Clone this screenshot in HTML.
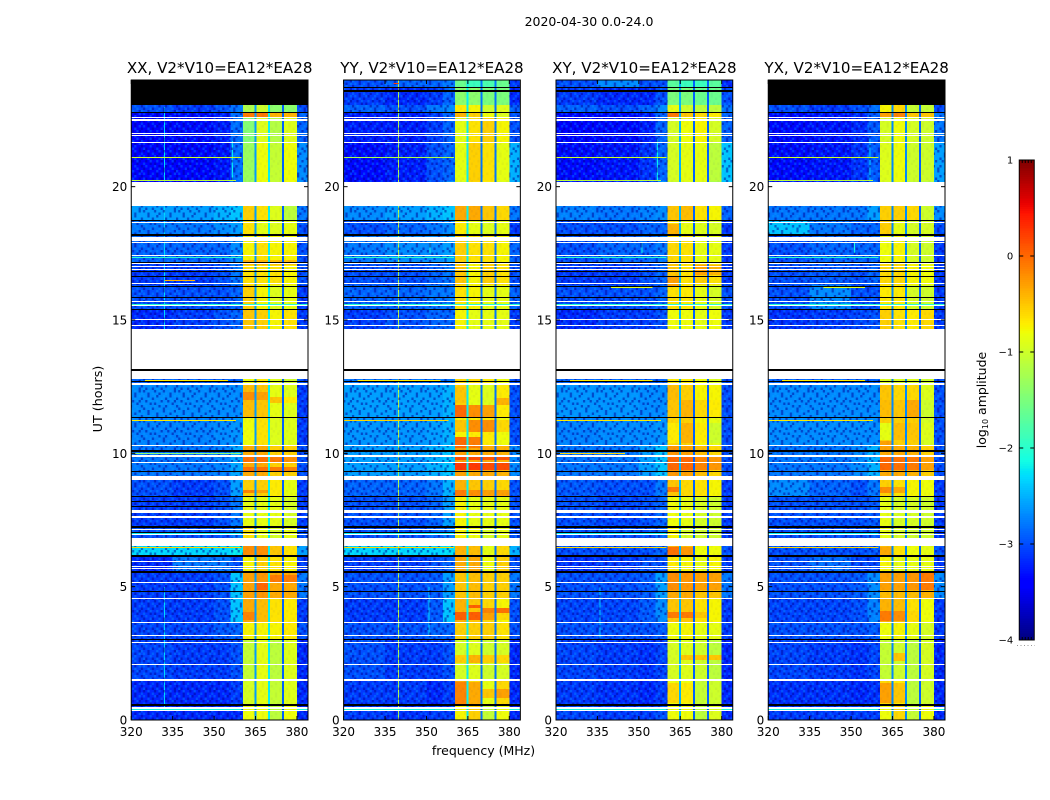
<!DOCTYPE html>
<html lang="en">
<head>
<meta charset="utf-8">
<title>2020-04-30 0.0-24.0</title>
<style>
html,body{margin:0;padding:0;background:#fff;width:1050px;height:800px;overflow:hidden}
svg{display:block}
text{font-family:"DejaVu Sans","Liberation Sans",sans-serif;fill:#000}
</style>
</head>
<body>
<svg id="figure" xmlns="http://www.w3.org/2000/svg" width="1050" height="800" viewBox="0 0 1050 800">
<rect x="0" y="0" width="1050" height="800" fill="#fff"/>
<text x="589" y="26" font-size="12.5" text-anchor="middle">2020-04-30 0.0-24.0</text>
<text x="483.5" y="755" font-size="12.5" text-anchor="middle">frequency (MHz)</text>
<text x="0" y="0" font-size="12.7" text-anchor="middle" transform="translate(102,399) rotate(-90)">UT (hours)</text>
<text x="0" y="0" font-size="12.5" text-anchor="middle" transform="translate(986,400) rotate(-90)">log<tspan font-size="8" dy="2">10</tspan><tspan dy="-2"> amplitude</tspan></text>
<g id="panels"></g>
<g id="colorbar"></g>
</svg>
<script>
/* ---------- data ---------- */
const panelTitles = ["XX, V2*V10=EA12*EA28","YY, V2*V10=EA12*EA28","XY, V2*V10=EA12*EA28","YX, V2*V10=EA12*EA28"];
const xTickLabels = [320,335,350,365,380];
const yTickLabels = [0,5,10,15,20];
const colorTicks = [1,0,-1,-2,-3,-4];
const freqEdges = [320,335,350,356,360.4,365,370,375,380,384];
const timeEdges = [24,23.74,23.06,22.76,21.67,20.2,19.27,18.71,18.19,17.17,16.31,15.38,14.66,12.79,12.56,11.36,10.31,9.15,8.4,7.27,6.52,6.15,5.55,4.58,3.66,3,1.5,0.56,0];

const valuesXX = [
[-3.3,-3.3,-3.3,-3.3,-2,-2,-2,-2,-3.3],
[-3.3,-3.3,-3.3,-3.3,-2,-2,-2,-2,-3.3],
[-3.0,-3.1,-3.0,-2.8,-1.2,-1.0,-1.4,-1.4,-3.0],
[-3.4,-3.35,-3.25,-2.85,-1.45,-0.9,-1.15,-0.9,-2.9],
[-3.4,-3.4,-3.3,-2.85,-1.3,-0.8,-1.05,-0.8,-2.7],
[-3.4,-3.4,-3.3,-2.85,-1.3,-0.8,-1.05,-0.8,-2.7],
[-2.6,-2.6,-2.5,-2.4,-0.55,-0.65,-0.9,-1.1,-2.8],
[-2.8,-2.8,-2.7,-2.6,-0.65,-0.85,-0.9,-0.85,-3.0],
[-2.9,-2.9,-2.9,-2.7,-0.75,-0.65,-0.75,-0.75,-3.0],
[-3.1,-3.1,-3.0,-2.8,-0.65,-0.65,-0.65,-0.75,-3.0],
[-3.0,-3.0,-3.0,-2.9,-0.55,-0.75,-0.9,-0.85,-3.1],
[-3.2,-3.1,-3.0,-2.9,-0.5,-0.55,-0.75,-0.65,-3.1],
[-3.2,-3.1,-3.0,-2.9,-0.5,-0.6,-0.8,-0.7,-3.1],
[-2.9,-2.9,-2.9,-2.9,-0.8,-0.7,-0.9,-1.0,-3.0],
[-2.7,-2.7,-2.7,-2.7,-0.45,-0.5,-0.85,-0.9,-3.1],
[-2.75,-2.75,-2.7,-2.65,-0.8,-0.65,-0.9,-0.9,-3.1],
[-2.8,-2.8,-2.75,-2.55,-0.35,-0.35,-0.55,-0.55,-3.0],
[-3.0,-3.1,-3.0,-2.6,-0.55,-0.55,-0.7,-0.85,-3.1],
[-3.1,-3.1,-3.0,-2.8,-0.85,-0.85,-0.85,-0.95,-3.1],
[-3.0,-3.0,-3.0,-2.8,-0.65,-0.85,-0.95,-0.85,-3.0],
[-2.3,-2.3,-2.3,-2.2,-0.2,-0.2,-0.5,-0.65,-2.6],
[-3.2,-2.8,-2.8,-3.0,-0.75,-0.55,-0.65,-0.75,-3.1],
[-3.1,-3.1,-3.0,-2.4,-0.3,-0.25,-0.35,-0.35,-2.8],
[-3.1,-3.1,-3.0,-2.4,-0.35,-0.45,-0.65,-0.7,-3.1],
[-3.05,-3.05,-2.95,-2.9,-0.75,-0.75,-0.75,-0.7,-3.0],
[-3.05,-3.1,-3.1,-3.0,-1.05,-0.85,-1.1,-0.9,-3.2],
[-3.2,-3.2,-3.2,-3.1,-0.95,-0.85,-1.05,-0.9,-3.2],
[-3.2,-3.2,-3.2,-3.2,-0.8,-0.8,-1.1,-0.8,-3.2]
];
const valuesYY = [
[-3.0,-2.9,-2.9,-2.8,-1.6,-1.9,-1.8,-1.6,-3.1],
[-3.1,-3.2,-3.1,-2.9,-1.4,-1.4,-1.5,-1.5,-3.2],
[-2.9,-3.0,-2.8,-2.7,-0.7,-0.75,-1.0,-0.9,-2.9],
[-3.25,-3.25,-3.1,-2.9,-0.85,-0.65,-0.55,-0.75,-3.0],
[-3.35,-3.25,-3.0,-2.9,-0.85,-0.55,-0.65,-0.85,-2.5],
[-3.3,-3.2,-3.0,-2.7,-0.9,-0.6,-0.7,-0.9,-2.5],
[-2.7,-2.6,-2.5,-2.4,-0.35,-0.35,-0.5,-0.6,-2.8],
[-3.0,-2.9,-2.8,-2.7,-0.7,-0.85,-0.9,-0.85,-3.1],
[-2.8,-2.7,-2.7,-2.6,-0.55,-0.65,-0.65,-0.75,-2.9],
[-3.0,-3.0,-2.9,-2.8,-0.5,-0.75,-0.55,-0.65,-3.0],
[-2.9,-2.9,-2.8,-2.8,-0.65,-0.75,-0.85,-0.85,-2.9],
[-3.1,-3.0,-2.9,-2.9,-0.75,-0.85,-0.85,-0.85,-3.1],
[-3.1,-3.0,-2.9,-2.9,-0.8,-0.9,-0.9,-0.9,-3.1],
[-2.8,-2.8,-2.8,-2.8,-0.6,-0.6,-0.7,-0.8,-3.0],
[-2.6,-2.6,-2.6,-2.5,-0.55,-0.85,-0.9,-0.7,-3.0],
[-2.65,-2.65,-2.6,-2.5,-0.75,-0.7,-0.7,-0.8,-3.0],
[-2.6,-2.6,-2.5,-2.4,-0.3,-0.35,-0.35,-0.4,-2.7],
[-2.9,-2.9,-2.8,-2.5,-0.4,-0.5,-0.55,-0.6,-3.0],
[-3.0,-3.0,-2.9,-2.6,-0.75,-0.85,-0.85,-0.85,-3.0],
[-3.0,-3.0,-2.9,-2.8,-0.75,-0.8,-0.95,-0.85,-3.0],
[-2.3,-2.3,-2.3,-2.25,-0.4,-0.45,-0.85,-0.6,-2.5],
[-3.1,-3.1,-3.0,-2.9,-0.35,-0.35,-0.8,-0.55,-3.0],
[-3.0,-3.0,-2.95,-2.6,-0.5,-0.45,-0.55,-0.55,-2.8],
[-3.1,-3.1,-2.95,-2.4,-0.4,-0.5,-0.6,-0.75,-3.0],
[-3.0,-3.0,-2.9,-2.9,-0.55,-0.55,-0.55,-0.65,-3.0],
[-3.0,-3.1,-3.1,-3.0,-0.95,-0.9,-1.0,-0.95,-3.2],
[-3.1,-3.1,-3.2,-3.1,-0.35,-0.6,-0.85,-0.55,-3.2],
[-3.1,-3.15,-3.1,-3.1,-0.75,-0.55,-1.05,-0.8,-3.2]
];
const valuesXY = [
[-3.0,-2.7,-3.0,-3.0,-1.7,-1.9,-1.9,-1.7,-3.2],
[-3.1,-3.2,-3.2,-3.0,-1.5,-1.5,-1.6,-1.6,-3.0],
[-2.9,-3.0,-2.9,-2.7,-0.85,-1.0,-1.1,-1.1,-2.8],
[-3.4,-3.35,-3.25,-2.9,-0.95,-0.8,-0.75,-0.95,-2.9],
[-3.35,-3.3,-3.15,-2.9,-0.95,-0.85,-0.85,-1.1,-2.4],
[-3.25,-3.2,-3.1,-2.7,-1.0,-0.9,-0.9,-1.2,-2.4],
[-2.75,-2.8,-2.75,-2.7,-0.5,-0.45,-0.65,-0.75,-2.9],
[-3.0,-3.0,-2.9,-2.9,-0.65,-0.85,-0.9,-0.95,-3.1],
[-3.0,-2.9,-2.9,-2.8,-0.6,-0.65,-0.85,-0.85,-3.1],
[-3.1,-3.1,-3.0,-2.9,-0.5,-0.65,-0.55,-0.65,-3.1],
[-3.0,-3.0,-3.0,-2.9,-0.65,-0.7,-0.85,-0.95,-3.0],
[-3.2,-3.1,-3.1,-3.0,-0.8,-0.8,-0.85,-0.8,-3.1],
[-3.2,-3.1,-3.1,-3.0,-0.85,-0.85,-0.9,-0.85,-3.1],
[-2.9,-2.9,-2.9,-2.9,-0.7,-0.7,-0.8,-0.9,-3.0],
[-2.65,-2.65,-2.7,-2.7,-0.45,-0.55,-0.75,-0.75,-3.0],
[-2.75,-2.7,-2.7,-2.65,-0.6,-0.55,-0.75,-0.85,-3.0],
[-2.8,-2.8,-2.6,-2.4,-0.25,-0.3,-0.45,-0.6,-3.0],
[-2.95,-3.0,-3.0,-2.8,-0.5,-0.6,-0.65,-0.75,-3.1],
[-3.0,-3.05,-3.0,-2.9,-0.8,-0.85,-0.95,-1.0,-3.1],
[-3.0,-3.0,-3.0,-2.9,-0.75,-0.95,-1.0,-1.0,-3.1],
[-3.0,-3.0,-3.0,-2.9,-0.4,-0.45,-0.8,-0.8,-3.0],
[-3.15,-3.1,-3.0,-3.0,-0.7,-0.75,-0.85,-0.75,-3.1],
[-3.0,-3.0,-2.95,-2.6,-0.35,-0.35,-0.5,-0.5,-2.8],
[-3.05,-3.05,-2.95,-2.7,-0.5,-0.5,-0.65,-0.75,-3.1],
[-3.0,-3.0,-3.0,-2.95,-0.8,-0.75,-0.85,-0.85,-3.1],
[-3.05,-3.1,-3.15,-3.05,-0.95,-0.9,-1.0,-1.1,-3.2],
[-3.1,-3.15,-3.2,-3.1,-0.8,-0.8,-1.05,-1.0,-3.2],
[-3.05,-3.1,-3.1,-3.0,-0.8,-0.8,-1.1,-0.9,-3.2]
];
const valuesYX = [
[-3.3,-3.3,-3.3,-3.3,-2,-2,-2,-2,-3.3],
[-3.3,-3.3,-3.3,-3.3,-2,-2,-2,-2,-3.3],
[-3.0,-3.1,-3.0,-2.85,-0.75,-0.6,-1.05,-1.05,-3.0],
[-3.35,-3.3,-3.2,-2.95,-0.95,-0.8,-0.95,-1.0,-2.8],
[-3.35,-3.3,-3.15,-2.95,-0.9,-0.8,-1.0,-1.0,-2.6],
[-3.25,-3.2,-3.1,-2.9,-0.95,-0.85,-1.05,-1.1,-2.6],
[-2.8,-2.8,-2.8,-2.6,-0.55,-0.55,-0.6,-1.0,-2.7],
[-2.4,-2.8,-2.9,-2.9,-0.55,-0.85,-0.95,-0.95,-3.0],
[-3.0,-2.9,-2.9,-2.9,-0.8,-0.75,-0.95,-1.0,-3.1],
[-3.0,-2.95,-3.0,-2.9,-0.6,-0.6,-0.75,-0.8,-3.1],
[-3.0,-2.7,-3.0,-3.0,-0.7,-0.7,-0.95,-1.0,-3.1],
[-3.15,-3.1,-3.05,-3.0,-0.55,-0.65,-0.7,-0.6,-3.1],
[-3.15,-3.1,-3.05,-3.0,-0.6,-0.7,-0.75,-0.65,-3.1],
[-2.9,-2.9,-2.9,-2.9,-0.9,-0.9,-0.9,-1.0,-3.0],
[-2.7,-2.7,-2.7,-2.7,-0.5,-0.6,-0.6,-0.9,-3.0],
[-2.7,-2.7,-2.7,-2.7,-0.55,-0.55,-0.55,-0.95,-3.0],
[-2.8,-2.8,-2.7,-2.5,-0.35,-0.35,-0.4,-0.55,-3.0],
[-2.7,-2.9,-3.0,-2.8,-0.55,-0.65,-0.75,-0.8,-3.1],
[-3.0,-3.0,-3.0,-2.95,-0.85,-0.95,-0.95,-1.0,-3.1],
[-3.0,-3.0,-3.0,-2.95,-0.85,-0.95,-1.0,-1.0,-3.1],
[-3.0,-3.0,-3.0,-2.95,-0.45,-0.65,-0.8,-0.85,-3.0],
[-3.0,-2.85,-3.05,-3.05,-0.75,-0.85,-0.85,-0.85,-3.1],
[-3.0,-3.0,-2.95,-2.7,-0.45,-0.45,-0.45,-0.4,-2.7],
[-3.05,-3.05,-3.0,-2.75,-0.4,-0.45,-0.65,-0.8,-3.1],
[-3.0,-3.0,-3.0,-2.95,-0.8,-0.75,-0.85,-0.95,-3.1],
[-3.05,-3.1,-3.15,-3.05,-1.05,-1.0,-1.1,-0.95,-3.2],
[-3.15,-3.15,-3.2,-3.15,-0.6,-0.7,-1.1,-1.0,-3.2],
[-3.1,-3.1,-3.1,-3.1,-0.8,-0.6,-1.05,-0.8,-3.2]
];
const panelValues = [valuesXX,valuesYY,valuesXY,valuesYX];

/* brighter patches inside the four sub-bands: [panel, hour top, hour bottom, [band levels]] */
const bandPatches = [
[0,22.8,22.575,[-0.1,-0.1,-0.4,-0.4]],
[0,17.25,17.06,[-0.4,-0.4,-0.45,-0.45]],
[0,12.3,12.0,[-0.2,-0.3,null,null]],
[0,12.11,11.89,[null,null,-0.5,-0.7]],
[0,9.86,9.675,[-0.05,-0.05,-0.1,-0.2]],
[0,9.49,9.3,[-0.05,-0.05,-0.1,-0.15]],
[0,8.625,8.51,[-0.15,-0.3,null,null]],
[0,5.175,4.875,[null,0,null,null]],
[0,5.44,5.175,[null,null,-0.1,-0.1]],
[0,4.05,3.75,[-0.15,null,null,null]],
[1,22.8,22.575,[-0.4,-0.55,-0.8,-0.9]],
[1,12.49,11.89,[-0.5,null,null,null]],
[1,11.81,11.36,[0,-0.2,-0.3,null]],
[1,12.08,11.81,[null,null,null,-0.4]],
[1,11.25,10.8,[-0.5,-0.2,-0.2,-0.6]],
[1,10.61,10.2,[0,-0.1,null,null]],
[1,9.86,9.75,[0.15,0.15,0.1,0.1]],
[1,9.64,9.375,[0.25,0.25,0.15,0.15]],
[1,8.625,8.4,[-0.1,-0.2,-0.3,-0.3]],
[1,4.05,3.75,[0.05,0.05,-0.3,-0.6]],
[1,4.31,4.2,[null,0.05,null,null]],
[1,4.2,4.01,[null,null,-0.15,-0.05]],
[1,2.44,2.14,[-0.55,-0.4,-0.55,-0.6]],
[1,1.425,0.56,[-0.15,-0.35,-0.85,-0.6]],
[1,1.16,0.825,[null,null,-0.5,-0.3]],
[2,22.8,22.575,[-0.1,-0.5,-0.6,-0.7]],
[2,18.6,18.2,[-0.4,null,null,null]],
[2,17.06,16.7,[null,null,-0.3,-0.4]],
[2,16.6,16.24,[-0.3,null,null,null]],
[2,12,11.36,[-0.5,-0.4,-0.6,-0.7]],
[2,11.14,10.39,[-0.7,-0.4,-0.7,-1.0]],
[2,9.86,9.375,[0,0,-0.15,-0.25]],
[2,8.74,8.55,[-0.1,null,null,null]],
[2,6.49,6.19,[-0.05,-0.25,-0.8,-0.8]],
[2,5.51,4.875,[-0.2,-0.25,-0.3,-0.3]],
[2,4.05,3.825,[-0.1,-0.1,-0.5,null]],
[2,2.44,2.25,[null,-0.5,-0.5,-0.5]],
[2,1.39,0.64,[-0.6,-0.7,null,null]],
[3,22.8,22.575,[-0.3,-0.15,-0.5,-0.5]],
[3,12,11.36,[-0.45,-0.5,-0.35,-1.0]],
[3,11.14,10.5,[-0.85,-0.45,-0.5,-0.9]],
[3,10.46,10.13,[-0.3,null,null,null]],
[3,9.86,9.375,[0,-0.05,-0.1,-0.3]],
[3,8.74,8.51,[-0.2,-0.35,null,null]],
[3,6.49,6.19,[-0.35,null,null,null]],
[3,5.51,4.875,[-0.3,-0.3,-0.25,-0.1]],
[3,4.1,3.7,[-0.1,-0.2,-0.6,null]],
[3,2.5,2.2,[null,-0.5,null,null]],
[3,1.39,0.64,[-0.3,-0.5,null,null]]
];

/* notches between sub-bands: centre frequency and level per panel */
const gapFreqs = [364.95,369.95,374.95];
const gapLevels = [[-2.6,-2.2,-2.9],[-2.2,-2.8,-2.8],[-2.5,-2.9,-2.9],[-2.7,-2.7,-2.9]];

/* narrow-band interference: [panels, freq, hour start, hour end, level] */
const rfiColumns = [
[[1],339.9,0,24,-1.1],
[[0],332,0.5,5,-2.3],
[[0],332,14,23,-2.3],
[[0],356.6,20.2,21.7,-2.2],
[[2],356.8,20.2,21.8,-2.2],
[[3],356.8,20.2,21.8,-2.4],
[[1,2,3],351.2,17.5,17.9,-2.1],
[[2],335.9,3,5,-2.4],
[[1],351,3.2,5,-2.3]
];
/* [panels, hour, freq start, freq end, level] */
const rfiRows = [
[[0,3,2],21.12,320,360,-1.0],
[[1],21.12,320,360,-1.2],
[[0,3,2],20.25,320,358,-1.1],
[[1],23.88,338,340,0.2],
[[0,1,2,3],17.37,320,360,-2.0],
[[0],16.5,332,343,-0.4],
[[2,3],16.25,340,355,-0.9],
[[0,1,2,3],12.74,325,355,-0.7],
[[0,2,3],11.24,320,358,-0.7],
[[1],11.24,320,358,-0.6],
[[0],10.02,320,360,-1.4],
[[2],10.02,320,345,-0.6],
[[0,1,2,3],6.5,320,360,-0.6],
[[0,1,2,3],15.6,320,384,-2.0],
[[0,1,2,3],7.0,320,360,-2.2],
[[0,1,2,3],0.4,320,360,-2.1],
[[0,1,2,3],0.4,380,384,-2.1]
];

/* flagged hours: [upper hour, lower hour] */
const whiteFlags = [
[22.61,22.575],[22.52,22.48],[22.01,21.975],[21.94,21.9],[21.69,21.66],[20.19,19.275],
[18.675,18.64],[18.11,17.98],[17.925,17.89],[17.44,17.4],[17.14,17.1],[17.02,16.98],
[16.91,16.875],[16.39,16.35],[15.71,15.675],[15.58,15.51],[15.04,15.0],[14.81,14.775],
[14.66,13.16],[13.09,12.78],[12.65,12.56],[10.31,10.275],[9.94,9.85],[9.675,9.64],
[9.15,9.0],[7.875,7.775],[7.65,7.575],[7.16,7.125],[6.975,6.94],[6.81,6.525],
[5.98,5.945],[5.775,5.74],[5.7,5.66],[5.16,5.125],[4.575,4.54],[3.675,3.64],
[3.18,3.14],[2.925,2.89],[2.1,2.06],[1.53,1.46],[0.47,0.43],[0.36,0.32]
];
const blackFlags = [
[22.8,22.77],[18.74,18.71],[18.22,18.15],[17.16,17.13],[16.82,16.79],[16.66,16.63],[16.26,16.23],
[15.88,15.85],[15.43,15.37],[13.15,13.08],[12.7,12.67],[11.36,11.33],[10.12,10.05],
[9.34,9.31],[8.41,8.38],[8.22,8.19],[8.01,7.98],[7.28,7.21],[7.05,7.02],[6.2,6.13],
[5.59,5.51],[4.85,4.82],[3.02,2.99],[0.59,0.52]
];
const topMaskPanels = [0,3];
const topMaskHours = [24,23.06];
const topFlagPanels = [1,2];
const topFlags = [[23.74,23.7],[23.62,23.55]];

/* hand-typed speckle tile: d = darker channel, l = lighter channel */
const speckleRows = [
".d.l..d.l.d..l.d",
"l..d.l..d..l.d..",
".l.d..ld..l..d.l",
"d..l.d...l.d.l..",
"..d.l..l.d..d.ld",
".l..d.d..l.l..d.",
"d.l...l.d..d.l..",
".d..ld..l.d...l.",
"l..d...l..d.l..d",
".l.d.l.d.l...d.l",
"d...l..d..ld.l..",
".ld..d.l.d..l..d"
];

const vmin = -4;
const vmax = 1;

/* ---------- scales ---------- */
const NS = "http://www.w3.org/2000/svg";
const panelLefts = [131.25,343.6,556,768.25];
const panelWidth = 176.75;
const plotTop = 80;
const plotHeight = 640;
const freqMin = 320, freqMax = 384, hourMin = 0, hourMax = 24;
function xScale(p,f){return panelLefts[p]+(f-freqMin)/(freqMax-freqMin)*panelWidth;}
function yScale(h){return plotTop+(hourMax-h)/(hourMax-hourMin)*plotHeight;}
function interp(t,xs,ys){
  for(let i=1;i<xs.length;i++){
    if(t<=xs[i]) return ys[i-1]+(ys[i]-ys[i-1])*(t-xs[i-1])/(xs[i]-xs[i-1]);
  }
  return ys[ys.length-1];
}
function jet(v){
  const t=Math.max(0,Math.min(1,(v-vmin)/(vmax-vmin)));
  const r=interp(t,[0,.35,.66,.89,1],[0,0,1,1,.5]);
  const g=interp(t,[0,.125,.375,.64,.91,1],[0,0,1,1,0,0]);
  const b=interp(t,[0,.11,.34,.65,1],[.5,1,1,0,0]);
  return "rgb("+Math.round(r*255)+","+Math.round(g*255)+","+Math.round(b*255)+")";
}
function mk(tag,attrs,parent){
  const el=document.createElementNS(NS,tag);
  for(const k in attrs) el.setAttribute(k,attrs[k]);
  if(parent) parent.appendChild(el);
  return el;
}
function cellRect(parent,x0,x1,y0,y1,fill){
  const top=Math.round(y0);
  const h=Math.max(1,Math.round(y1)-top);
  return mk("rect",{x:x0,y:top,width:x1-x0,height:h,fill:fill,"shape-rendering":"crispEdges"},parent);
}

/* ---------- speckle pattern ---------- */
const svg=document.getElementById("figure");
const defs=mk("defs",{},svg);
const cellW=2.2,cellH=2.5;
const pattern=mk("pattern",{id:"speckle",patternUnits:"userSpaceOnUse",width:cellW*speckleRows[0].length,height:cellH*speckleRows.length},defs);


speckleRows.forEach(function(row,r){
  row.split("").forEach(function(ch,c){
    if(ch===".") return;
    mk("rect",{x:c*cellW,y:r*cellH,width:cellW,height:cellH,fill:ch==="d"?"rgba(0,0,150,.5)":"rgba(0,170,255,.32)"},pattern);
  });
});

/* ---------- panels ---------- */
const panelsGroup=document.getElementById("panels");
panelTitles.forEach(function(title,p){
  const g=mk("g",{},panelsGroup);
  
  
  const left=panelLefts[p], right=left+panelWidth, bottom=plotTop+plotHeight;

  const titleEl=mk("text",{x:left+panelWidth/2,y:73,"font-size":15.1,"text-anchor":"middle"},g);
  titleEl.textContent=title;
  
  

  const values=panelValues[p];
  values.forEach(function(row,i){
    row.forEach(function(v,j){
      const cell=cellRect(g,xScale(p,freqEdges[j]),xScale(p,freqEdges[j+1]),yScale(timeEdges[i]),yScale(timeEdges[i+1]),jet(v));
      
      
    });
  });

  bandPatches.forEach(function(b){
    if(b[0]!==p) return;
    b[3].forEach(function(v,k){
      if(v===null) return;
      const patch=cellRect(g,xScale(p,freqEdges[4+k]),xScale(p,freqEdges[5+k]),yScale(b[1]),yScale(b[2]),jet(v));
      
      
    });
  });

  gapFreqs.forEach(function(f,k){
    const gap=cellRect(g,xScale(p,f)-1,xScale(p,f)+1,yScale(hourMax),yScale(hourMin),jet(gapLevels[p][k]));
    
    
  });

  rfiColumns.forEach(function(r){
    if(r[0].indexOf(p)<0) return;
    const col=cellRect(g,xScale(p,r[1])-0.5,xScale(p,r[1])+0.5,yScale(r[3]),yScale(r[2]),jet(r[4]));
    
    
  });

  const texLow=mk("rect",{x:left,y:plotTop,width:xScale(p,360.4)-left,height:plotHeight,fill:"url(#speckle)"},g);
  
  
  const texHigh=mk("rect",{x:xScale(p,380),y:plotTop,width:right-xScale(p,380),height:plotHeight,fill:"url(#speckle)"},g);
  
  
  const texBand=mk("rect",{x:xScale(p,360.4),y:plotTop,width:xScale(p,380)-xScale(p,360.4),height:plotHeight,fill:"url(#speckle)",opacity:.08},g);
  
  

  rfiRows.forEach(function(r){
    if(r[0].indexOf(p)<0) return;
    const line=cellRect(g,xScale(p,r[2]),xScale(p,r[3]),yScale(r[1]),yScale(r[1])+1,jet(r[4]));
    
    
  });

  whiteFlags.forEach(function(f){
    const flag=cellRect(g,left,right,yScale(f[0]),yScale(f[1]),"#fff");
    
    
  });
  blackFlags.forEach(function(f){
    const flag=cellRect(g,left,right,yScale(f[0]),yScale(f[1]),"#000");
    
    
  });
  if(topFlagPanels.indexOf(p)>=0){
    topFlags.forEach(function(f){
      const flag=cellRect(g,left,right,yScale(f[0]),yScale(f[1]),"#000");
      
      
    });
  }
  if(topMaskPanels.indexOf(p)>=0){
    const mask=cellRect(g,left,right,yScale(topMaskHours[0]),yScale(topMaskHours[1]),"#000");
    
    
  }

  xTickLabels.forEach(function(t){
    const x=xScale(p,t);
    const tb=mk("line",{x1:x,x2:x,y1:bottom,y2:bottom-4,stroke:"#000","stroke-width":1},g);
    
    
    const tt=mk("line",{x1:x,x2:x,y1:plotTop,y2:plotTop+4,stroke:"#000","stroke-width":1},g);
    
    
    const lab=mk("text",{x:x,y:736,"font-size":12,"text-anchor":"middle"},g);
    lab.textContent=String(t);
    
    
  });
  yTickLabels.forEach(function(t){
    const y=yScale(t);
    const tl=mk("line",{x1:left,x2:left+4,y1:y,y2:y,stroke:"#000","stroke-width":1},g);
    
    
    const tr=mk("line",{x1:right,x2:right-4,y1:y,y2:y,stroke:"#000","stroke-width":1},g);
    
    
    const lab=mk("text",{x:left-4,y:y+4.5,"font-size":12,"text-anchor":"end"},g);
    lab.textContent=String(t);
    
    
  });

  const frame=mk("rect",{x:left,y:plotTop,width:panelWidth,height:plotHeight,fill:"none",stroke:"#000","stroke-width":1},g);
  
  
});

/* ---------- colorbar ---------- */
const cbar=document.getElementById("colorbar");
const cbLeft=1019.25,cbWidth=15,cbTop=160,cbHeight=480;
function cbY(v){return cbTop+(vmax-v)/(vmax-vmin)*cbHeight;}
const cbSteps=256;
for(let i=0;i<cbSteps;i++){
  const v1=vmax-(vmax-vmin)*i/cbSteps;
  const v0=vmax-(vmax-vmin)*(i+1)/cbSteps;
  const seg=cellRect(cbar,cbLeft,cbLeft+cbWidth,cbY(v1),cbY(v0),jet((v0+v1)/2));
  
  
}
colorTicks.forEach(function(t){
  const y=cbY(t);
  const a=mk("line",{x1:cbLeft,x2:cbLeft+4,y1:y,y2:y,stroke:"#000","stroke-width":1},cbar);
  
  
  const b=mk("line",{x1:cbLeft+cbWidth,x2:cbLeft+cbWidth-4,y1:y,y2:y,stroke:"#000","stroke-width":1},cbar);
  
  
  const lab=mk("text",{x:cbLeft-6,y:y+3.5,"font-size":10,"text-anchor":"end"},cbar);
  lab.textContent=String(t).replace("-","\u2212");
  
  
});
for(let k=1;k<5;k++){
  const x=cbLeft+k*cbWidth/5;
  const mt=mk("line",{x1:x,x2:x,y1:cbTop,y2:cbTop+3,stroke:"#000","stroke-width":1},cbar);
  
  
  const mb=mk("line",{x1:x,x2:x,y1:cbTop+cbHeight,y2:cbTop+cbHeight-3,stroke:"#000","stroke-width":1},cbar);
  
  
}
const cbFrame=mk("rect",{x:cbLeft,y:cbTop,width:cbWidth,height:cbHeight,fill:"none",stroke:"#000","stroke-width":1},cbar);


const cbDots=mk("line",{x1:1017,x2:1035,y1:645.5,y2:645.5,stroke:"#999","stroke-width":1,"stroke-dasharray":"1 2.5"},cbar);


</script>
</body>
</html>
